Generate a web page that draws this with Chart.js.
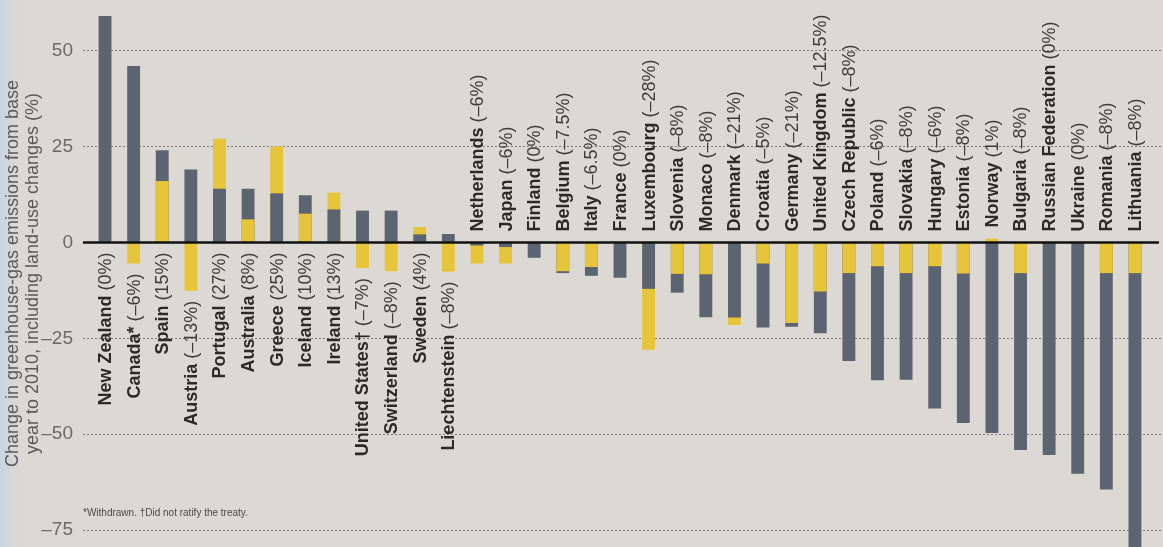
<!DOCTYPE html>
<html>
<head>
<meta charset="utf-8">
<title>Kyoto targets and emissions</title>
<script src="https://cdn.jsdelivr.net/npm/chart.js@4/dist/chart.umd.min.js"></script>
<style>
    html, body{
        margin:0;
        padding:0;
    }
    body{
        width:1163px;
        height:547px;
        overflow:hidden;
        background:linear-gradient(to right, #c9d4e2 0px, #d8d8d8 14px, #dcd9d4 26px);
    }
    .wrap{
        position:relative;
        width:1163px;
        height:547px;
    }
</style>
</head>
<body>
<div class="wrap">
    <canvas id="emissionsChart"></canvas>
</div>
<script>

// countries, left to right
const countries = [
    'New Zealand','Canada*','Spain','Austria','Portugal','Australia','Greece',
    'Iceland','Ireland','United States†','Switzerland','Sweden','Liechtenstein',
    'Netherlands','Japan','Finland','Belgium','Italy','France','Luxembourg',
    'Slovenia','Monaco','Denmark','Croatia','Germany','United Kingdom',
    'Czech Republic','Poland','Slovakia','Hungary','Estonia','Norway',
    'Bulgaria','Russian Federation','Ukraine','Romania','Lithuania'
];

// Kyoto target as printed next to each name
const targetText = [
    '0%','–6%','15%','–13%','27%','8%','25%',
    '10%','13%','–7%','–8%','4%','–8%',
    '–6%','–6%','0%','–7.5%','–6.5%','0%','–28%',
    '–8%','–8%','–21%','–5%','–21%','–12.5%',
    '–8%','–6%','–8%','–6%','–8%','1%',
    '–8%','0%','0%','–8%','–8%'
];

// grey bars: change in emissions, base year to 2010 (%)
const actualChange = [
    59, 46, 24, 19, 14, 14, 12.8,
    12.3, 8.6, 8.3, 8.3, 2.1, 2.2,
    -0.8, -1.2, -4, -8, -8.7, -9.2, -12.1,
    -13.1, -19.5, -19.6, -22.2, -22, -23.7,
    -30.9, -35.9, -35.8, -43.3, -47.1, -49.7,
    -54.1, -55.4, -60.3, -64.4, -82
];

// yellow bars: target (%)
const targetBars = [
    0, -5.5, 16, -12.6, 27, 6, 25,
    7.5, 13, -6.7, -7.5, 4, -7.6,
    -5.5, -5.5, 0, -7.5, -6.4, 0, -28,
    -8.2, -8.3, -21.5, -5.5, -21, -12.8,
    -8, -6.2, -8, -6.2, -8.1, 1,
    -8, 0, 0, -8, -8
];

const yTicks = [50, 25, 0, -25, -50, -75];

const yTitle = [
    'Change in greenhouse-gas emissions from base',
    'year to 2010, including land-use changes (%)'
];

const footnote = '*Withdrawn. †Did not ratify the treaty.';

const GREY = '#5c6371';
const YELLOW = '#e6c53a';

// the shorter of the two bars is drawn in front
const greyBehind =
actualChange.map((g,i)=>Math.abs(g) >= Math.abs(targetBars[i]));

const backData =
actualChange.map((g,i)=>({x:i, y: greyBehind[i] ? g : targetBars[i]}));

const frontData =
actualChange.map((g,i)=>({x:i, y: greyBehind[i] ? targetBars[i] : g}));

const backColors =
greyBehind.map(b=> b ? GREY : YELLOW);

const frontColors =
greyBehind.map(b=> b ? YELLOW : GREY);

const labelPlugin = {
    id:'countryLabels',
    afterDatasetsDraw(chart){
        const ctx = chart.ctx;
        const x = chart.scales.x;
        const y = chart.scales.y;
        const area = chart.chartArea;

        // zero line
        ctx.save();
        ctx.strokeStyle = '#111';
        ctx.lineWidth = 2.5;
        ctx.beginPath();
        ctx.moveTo(area.left, y.getPixelForValue(0));
        ctx.lineTo(area.right - 4, y.getPixelForValue(0));
        ctx.stroke();
        ctx.restore();

        const boldFont = 'bold 18px "Liberation Sans", Arial, sans-serif';
        const normalFont = '18px "Liberation Sans", Arial, sans-serif';

        countries.forEach((name,i)=>{
            const px = x.getPixelForValue(i);
            const g = actualChange[i];
            const t = targetBars[i];
            const rest = ' (' + targetText[i] + ')';

            ctx.save();
            ctx.font = boldFont;
            const w1 = ctx.measureText(name).width;
            ctx.font = normalFont;
            const w2 = ctx.measureText(rest).width;

            let start;
            if(g > 0){
                // label hangs below the lowest bar end
                const yEnd = y.getPixelForValue(Math.min(0,g,t)) + 10;
                ctx.translate(px, yEnd);
                start = -(w1 + w2);
            }else{
                const yStart = y.getPixelForValue(Math.max(0,g,t)) - 11;
                ctx.translate(px, yStart);
                start = 0;
            }
            ctx.rotate(-Math.PI/2);
            ctx.textAlign = 'left';
            ctx.textBaseline = 'middle';
            ctx.fillStyle = '#2a2a2a';
            ctx.font = boldFont;
            ctx.fillText(name, start, 1);
            ctx.fillStyle = '#3c3c3c';
            ctx.font = normalFont;
            ctx.fillText(rest, start + w1, 1);
            ctx.restore();
        });

        ctx.save();
        ctx.font = '10px "Liberation Sans Narrow", "Liberation Sans", sans-serif';
        ctx.fillStyle = '#4a4a4a';
        ctx.textBaseline = 'middle';
        ctx.fillText(footnote, area.left, 513);
        ctx.restore();
    }
};

const emissionsChart =
document.getElementById('emissionsChart');

new Chart(emissionsChart, {
    type:'bar',
    data:{
        datasets:[
            {
                label:'front',
                data:frontData,
                backgroundColor:frontColors,
                order:0
            },
            {
                label:'back',
                data:backData,
                backgroundColor:backColors,
                order:1
            }
        ]
    },
    options:{
        responsive:true,
        maintainAspectRatio:false,
        animation:false,
        layout:{padding:0},
        datasets:{
            bar:{
                grouped:false,
                barPercentage:0.45,
                categoryPercentage:1,
                borderWidth:0
            }
        },
        plugins:{
            legend:{display:false},
            tooltip:{enabled:false}
        },
        scales:{
            x:{
                type:'linear',
                display:false,
                min:-0.77,
                max:36.98,
                offset:false
            },
            y:{
                min:-79.4,
                max:63.2,
                afterBuildTicks(scale){
                    scale.ticks = yTicks.map(v=>({value:v}));
                },
                afterFit(scale){
                    scale.width = 83;
                    // let the plot run to the top and bottom edges
                    scale.paddingTop = 0;
                    scale.paddingBottom = 0;
                },
                grid:{
                    color:c=> c.tick && c.tick.value === 0 ? 'transparent' : '#7a7a7a',
                    lineWidth:1,
                    drawTicks:false
                },
                border:{
                    display:false,
                    dash:[2,2]
                },
                ticks:{
                    padding:10,
                    color:'#6a6a6a',
                    font:{
                        family:'"Liberation Sans Narrow", "Liberation Sans", sans-serif',
                        size:19
                    },
                    callback:v=> v < 0 ? '–' + Math.abs(v) : String(v)
                },
                title:{
                    display:true,
                    text:yTitle,
                    color:'#5a5a5a',
                    font:{
                        family:'"Liberation Sans", Arial, sans-serif',
                        size:18,
                        lineHeight:1.1
                    },
                    padding:{top:3, bottom:0}
                }
            }
        }
    },
    plugins:[labelPlugin]
});
</script>
</body>
</html>
